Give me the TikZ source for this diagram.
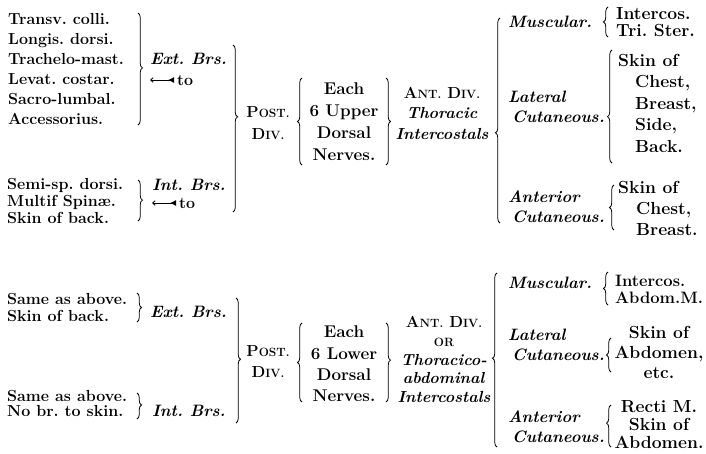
\documentclass[tikz,border=0pt]{standalone}
\usetikzlibrary{decorations.pathreplacing,arrows.meta}
\newcommand{\fakesc}[2]{{\fontsize{16}{16}\selectfont#1\fontsize{12}{12}\selectfont#2}}
\frenchspacing

\begin{document}
\begin{tikzpicture}[x=1pt,y=-1pt,
    txt/.style={inner sep=0pt,align=left,font=\fontsize{16}{#1}\selectfont\bfseries},
    txt/.default=20,
    ctr/.style={txt=#1,align=center},
    ctr/.default=20,
    big/.style={inner sep=0pt,align=left,font=\fontsize{17.5}{#1}\selectfont\bfseries},
    big/.default=20,
    mid/.style={inner sep=0pt,align=center,font=\fontsize{17}{#1}\selectfont\bfseries},
    lbl/.style={inner sep=0pt,align=left,font=\fontsize{16.5}{20}\selectfont\bfseries\itshape},
    brc/.style={decorate,decoration={brace,amplitude=4.5pt,aspect=#1},line width=0.8pt},
    brc/.default=0.5,
    toarr/.style={{Straight Barb[length=2.5pt,width=4.5pt]}-{Latex[reversed,length=6pt,width=6pt]},line width=0.9pt}]
   \useasboundingbox (0,0) rectangle (706,453);
   % upper six dorsal nerves
   \node[txt,anchor=west]  (muscA) at (8,69)   {Transv. colli.\\Longis. dorsi.\\Trachelo-mast.\\Levat. costar.\\Sacro-lumbal.\\Accessorius.};
   \node[txt=17,anchor=west] (deepA) at (7,201) {Semi-sp. dorsi.\\Multif Spin\ae.\\Skin of back.};
   \draw[brc=0.49] (138,13)--(138,125);
   \node[lbl,anchor=west]  (extA)  at (150,59)  {Ext. Brs.};
   \node[txt,anchor=west]  (toA)   at (177,80)  {to};
   \coordinate (tipA) at (150,80);
   \draw[toarr] (tipA)--([xshift=-3pt]toA.west);
   \draw[brc=0.49] (138,180)--(138,221);
   \node[lbl,anchor=west]  (intA)  at (152,185) {Int. Brs.};
   \node[txt,anchor=west]  (toB)   at (179,203) {to};
   \coordinate (tipB) at (152,203);
   \draw[toarr] (tipB)--([xshift=-3pt]toB.west);
   \draw[brc=0.43] (233,45)--(233,212);
   \node[ctr=22] (postA) at (268,123) {\fakesc{P}{OST.}\\\fakesc{D}{IV.}};
   \draw[brc] (302,165)--(302,78);
   \node[mid=22] (nervA) at (344,122) {Each\\6 Upper\\Dorsal\\Nerves.};
   \draw[brc] (386,78)--(386,165);
   \node[ctr=20.5] (antA) at (442,113) {\fakesc{A}{NT.} \fakesc{D}{IV.}\\\textit{Thoracic}\\\textit{Intercostals}};
   \draw[brc=0.44] (500,223)--(500,18);
   \node[lbl,anchor=west]  (muscB) at (508,22)  {Muscular.};
   \draw[brc] (608,37)--(608,7);
   \node[big=17,anchor=west] (trsB) at (616,22) {Intercos.\\Tri. Ster.};
   \node[lbl,anchor=west]  (latB)  at (508,107) {Lateral\\\hspace*{4pt}Cutaneous.};
   \draw[brc=0.41] (612,163)--(612,50);
   \node[big=21.5,anchor=west] (skinB) at (618,103) {Skin of\\\hspace*{17pt}Chest,\\\hspace*{17pt}Breast,\\\hspace*{17pt}Side,\\\hspace*{17pt}Back.};
   \node[lbl,anchor=west]  (antB)  at (508,207) {Anterior\\\hspace*{4pt}Cutaneous.};
   \draw[brc] (614,230)--(614,185);
   \node[big=21,anchor=west] (skinC) at (618,208) {Skin of\\\hspace*{18pt}Chest,\\\hspace*{18pt}Breast.};
   % lower six dorsal nerves
   \node[txt=17,anchor=west] (sameA) at (7,307.5) {Same as above.\\Skin of back.};
   \draw[brc] (137,293)--(137,322);
   \node[lbl,anchor=west]  (extB)  at (150,312) {Ext. Brs.};
   \node[txt=15.5,anchor=west] (sameB) at (7,403.5) {Same as above.\\No br. to skin.};
   \draw[brc=0.46] (137,393)--(137,419);
   \node[lbl,anchor=west]  (intB)  at (152,411) {Int. Brs.};
   \draw[brc=0.49] (236,298)--(236,423);
   \node[ctr=21] (postB) at (268,362) {\fakesc{P}{OST.}\\\fakesc{D}{IV.}};
   \draw[brc] (302,402)--(302,323);
   \node[mid=21.3] (nervB) at (344,364) {Each\\6 Lower\\Dorsal\\Nerves.};
   \draw[brc=0.47] (386,323)--(386,402);
   \node[ctr=18.75] (antC) at (444,359.5) {\fakesc{A}{NT.} \fakesc{D}{IV.}\\{\fontsize{12}{12}\selectfont OR}\\\textit{Thoracico-}\\\textit{abdominal}\\\textit{Intercostals}};
   \draw[brc=0.51] (497,447)--(497,273);
   \node[lbl,anchor=west]  (muscC) at (508,283) {Muscular.};
   \draw[brc] (608,305)--(608,272);
   \node[big=17,anchor=west,font=\fontsize{16.5}{17}\selectfont\bfseries] (abdC) at (615,289) {Intercos.\\Abdom.M.};
   \node[lbl,anchor=west]  (latC)  at (508,345) {Lateral\\\hspace*{4pt}Cutaneous.};
   \draw[brc] (611,372)--(611,338);
   \node[big,align=center] (skinD) at (659,352) {Skin of\\Abdomen,\\etc.};
   \node[lbl,anchor=west]  (antD)  at (508,427) {Anterior\\\hspace*{4pt}Cutaneous.};
   \draw[brc=0.57] (611,447)--(611,405);
   \node[big=18,align=center] (skinE) at (659,425) {Recti M.\\Skin of\\Abdomen.};
  \end{tikzpicture}
\end{document}
